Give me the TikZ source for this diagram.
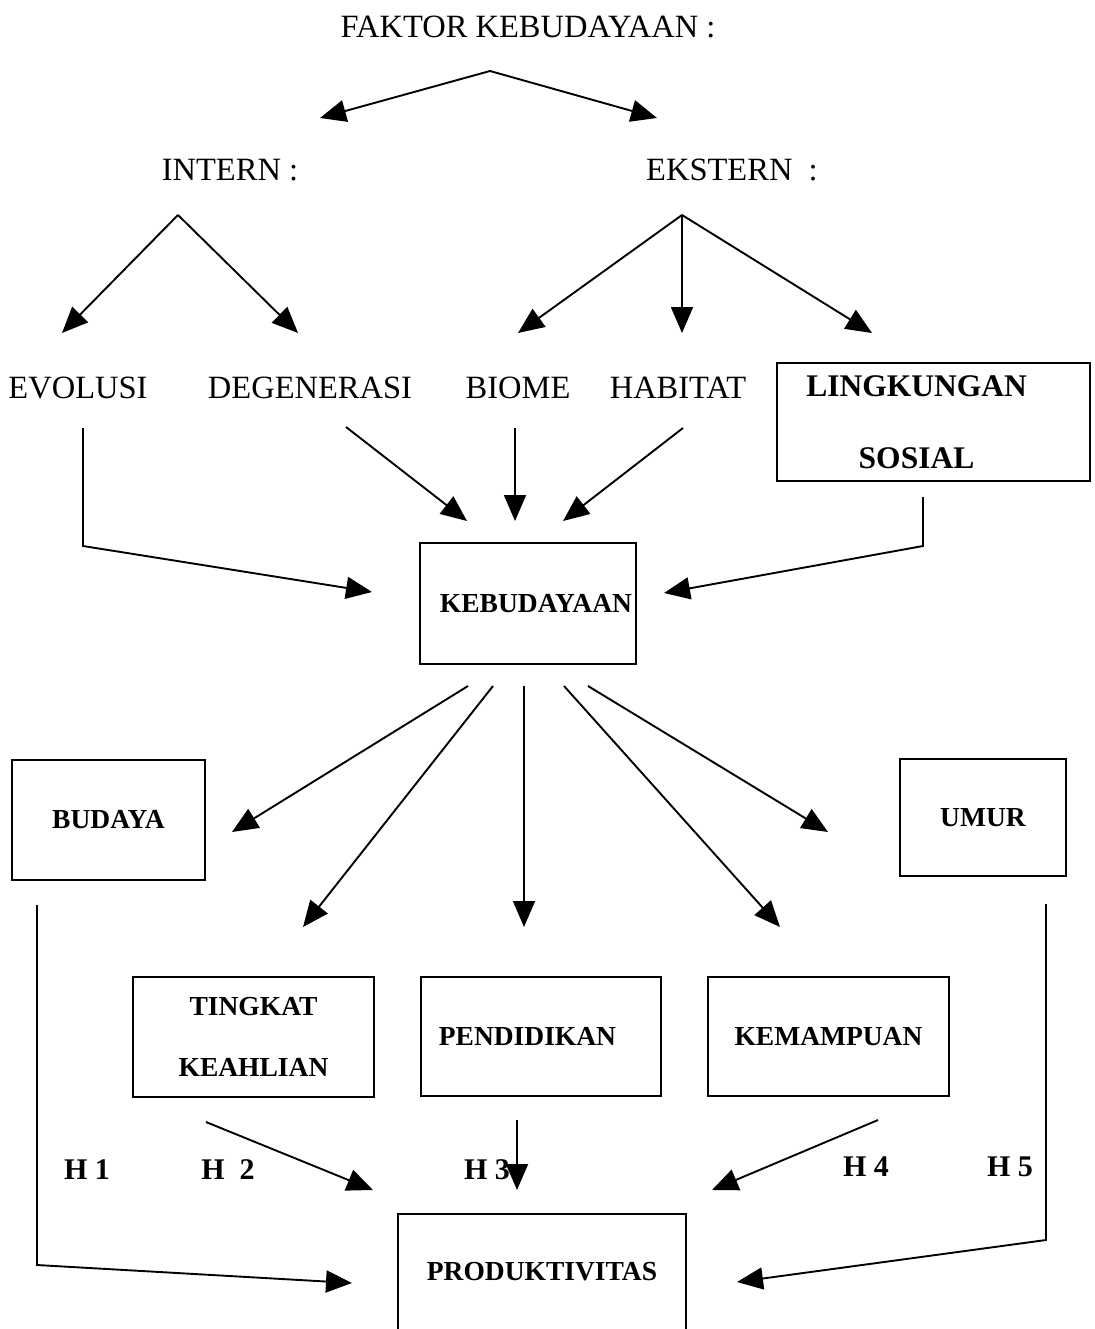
\documentclass[tikz,border=0pt]{standalone}
\usepackage{fontspec}
\setmainfont{Liberation Serif}
\usetikzlibrary{arrows.meta}
\tikzset{
  plain/.style={inner sep=0pt, font=\fontsize{32.5}{38}\selectfont},
  hlab/.style={inner sep=0pt, font=\fontsize{30}{36}\selectfont\bfseries},
  box/.style={draw, line width=1.6pt, inner sep=0pt, font=\fontsize{27.5}{33}\selectfont\bfseries},
  arr/.style={line width=1.9pt, -{Triangle[length=26pt,width=22pt]}},
  ln/.style={line width=1.9pt}
}
\begin{document}
\begin{tikzpicture}[x=1pt,y=-1pt]
\path[use as bounding box, clip] (0,0) rectangle (1094,1329);
\fill[white] (0,0) rectangle (1094,1329);

% text nodes
\node[plain] (faktor) at (528,27) {FAKTOR KEBUDAYAAN :};
\node[plain] (intern) at (230,170) {INTERN :};
\node[plain] (ekstern) at (732,170) {EKSTERN\ \ :};
\node[plain] (evol) at (78,388) {EVOLUSI};
\node[plain] (degen) at (310,388) {DEGENERASI};
\node[plain] (biome) at (518,388) {BIOME};
\node[plain] (habitat) at (678,388) {HABITAT};

% boxes
\node[box, minimum width=313pt, minimum height=118pt, align=center,
      font=\fontsize{31.5}{72}\selectfont\bfseries] (ling) at (933.5,422)
      {LINGKUNGAN\hspace*{34pt}\\SOSIAL\hspace*{34pt}};
\node[box, minimum width=216pt, minimum height=121pt] (keb) at (528,603.5) {\hspace*{16pt}KEBUDAYAAN};
\node[box, minimum width=193pt, minimum height=120pt] (budaya) at (108.5,820) {BUDAYA};
\node[box, minimum width=166pt, minimum height=117pt] (umur) at (983,817.5) {UMUR};
\node[box, minimum width=241pt, minimum height=120pt, align=center,
      font=\fontsize{27.5}{61}\selectfont\bfseries] (tingkat) at (253.5,1037) {TINGKAT\\KEAHLIAN};
\node[box, minimum width=240pt, minimum height=119pt] (pend) at (541,1036.5) {PENDIDIKAN\hspace*{27pt}};
\node[box, minimum width=241pt, minimum height=119pt] (kemam) at (828.5,1036.5) {KEMAMPUAN};
\node[box, minimum width=288pt, minimum height=116pt] (prod) at (542,1272) {PRODUKTIVITAS};

% H labels
\node[hlab] (h1) at (87,1170) {H 1};
\node[hlab] (h2) at (228,1170) {H\ \ 2};
\node[hlab] (h3) at (487,1170) {H 3};
\node[hlab] (h4) at (866,1167) {H 4};
\node[hlab] (h5) at (1010,1167) {H 5};

% top level
\draw[arr] ([shift={(-38,44)}]faktor.center) -- ([shift={(90,-52)}]intern.center);
\draw[arr] ([shift={(-38,44)}]faktor.center) -- ([shift={(-75,-52)}]ekstern.center);

% intern
\draw[arr] ([shift={(-52,45)}]intern.center) -- ([shift={(-16,-55)}]evol.center);
\draw[arr] ([shift={(-52,45)}]intern.center) -- ([shift={(-12,-55)}]degen.center);

% ekstern
\draw[arr] ([shift={(-50,45)}]ekstern.center) -- ([shift={(0,-55)}]biome.center);
\draw[arr] ([shift={(-50,45)}]ekstern.center) -- ([shift={(4,-55)}]habitat.center);
\draw[arr] ([shift={(-50,45)}]ekstern.center) -- ([shift={(-61.5,-89)}]ling.center);

% into kebudayaan
\draw[arr] ([shift={(5,40)}]evol.center) -- ++(0,118) -- ([shift={(-156,-11.5)}]keb.center);
\draw[arr] ([shift={(36,39)}]degen.center) -- ([shift={(-61,-82.5)}]keb.center);
\draw[arr] ([shift={(-3,40)}]biome.center) -- ([shift={(-13,-82.5)}]keb.center);
\draw[arr] ([shift={(5,40)}]habitat.center) -- ([shift={(35,-82.5)}]keb.center);
\draw[arr] ([shift={(-10.5,75)}]ling.center) -- ++(0,49) -- ([shift={(136,-10.5)}]keb.center);

% out of kebudayaan
\draw[arr] ([shift={(-60,82.5)}]keb.center) -- ([shift={(123.5,12)}]budaya.center);
\draw[arr] ([shift={(-35,82.5)}]keb.center) -- ([shift={(49.5,-110)}]tingkat.center);
\draw[arr] ([shift={(-4,82.5)}]keb.center) -- ([shift={(-17,-109.5)}]pend.center);
\draw[arr] ([shift={(36,82.5)}]keb.center) -- ([shift={(-48.5,-109.5)}]kemam.center);
\draw[arr] ([shift={(60,82.5)}]keb.center) -- ([shift={(-155,14.5)}]umur.center);

% into produktivitas
\draw[arr] ([shift={(-71.5,85)}]budaya.center) -- ++(0,360) -- ([shift={(-190,11)}]prod.center);
\draw[arr] ([shift={(63,86.5)}]umur.center) -- ++(0,336) -- ([shift={(195,10)}]prod.center);
\draw[arr] ([shift={(-47.5,85)}]tingkat.center) -- ([shift={(-169,-82)}]prod.center);
\draw[arr] ([shift={(-24,83.5)}]pend.center) -- ([shift={(-25,-82)}]prod.center);
\draw[arr] ([shift={(49.5,83.5)}]kemam.center) -- ([shift={(170,-82)}]prod.center);
\end{tikzpicture}
\end{document}
